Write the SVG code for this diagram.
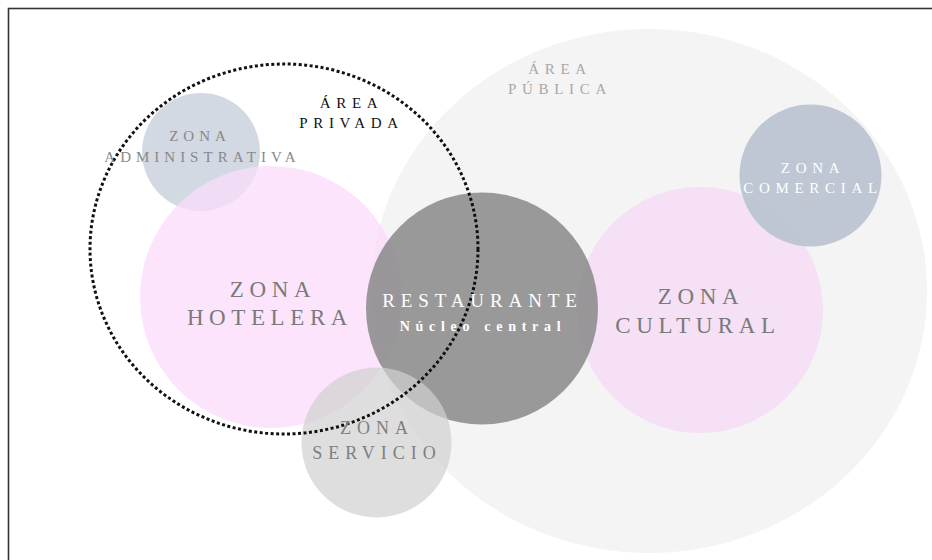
<svg xmlns="http://www.w3.org/2000/svg" width="932" height="560" viewBox="0 0 932 560">
<style>
text{font-family:"Liberation Serif","Times New Roman",serif;text-anchor:middle}
.big{font-size:23px;letter-spacing:5.6px;fill:#7a7a7a}
.sm{font-size:15px;letter-spacing:5.7px}
</style>
<rect x="0" y="0" width="932" height="560" fill="#fff"/>
<rect x="8.5" y="8.5" width="940" height="570" fill="none" stroke="#333" stroke-width="1.6"/>
<g id="area-publica">
<ellipse cx="649" cy="291" rx="278" ry="262" fill="#f4f4f4"/>
<text class="sm" x="560" y="74" fill="#a8a8a8">ÁREA</text>
<text class="sm" x="560" y="94" fill="#a8a8a8">PÚBLICA</text>
</g>
<g id="zona-administrativa">
<circle cx="201" cy="152" r="59" fill="#d3d9e3"/>
</g>
<g id="zona-hotelera">
<circle cx="271" cy="297" r="131" fill="#fbdcfb" fill-opacity="0.75"/>
</g>
<g id="zona-cultural">
<circle cx="700" cy="310" r="123" fill="#f5dcf5" fill-opacity="0.85"/>
</g>
<g id="zona-comercial">
<circle cx="810.5" cy="175.5" r="71" fill="#b8c2cf" fill-opacity="0.9"/>
</g>
<g id="restaurante">
<circle cx="482" cy="308.5" r="116" fill="#888" fill-opacity="0.85"/>
</g>
<g id="zona-servicio">
<circle cx="376.5" cy="442.5" r="75" fill="#d0d0d0" fill-opacity="0.7"/>
</g>
<g id="area-privada">
<ellipse cx="284" cy="249" rx="194" ry="185" fill="none" stroke="#111" stroke-width="3" stroke-dasharray="3 2.5"/>
<text class="sm" x="351.5" y="108" fill="#111">ÁREA</text>
<text class="sm" x="351.5" y="128" fill="#111">PRIVADA</text>
</g>
<g id="labels">
<text class="sm" x="200" y="141" fill="#888" style="letter-spacing:5px">ZONA</text>
<text class="sm" x="202.5" y="162" fill="#888" style="letter-spacing:5px">ADMINISTRATIVA</text>
<text class="big" x="273" y="297">ZONA</text>
<text class="big" x="270" y="325">HOTELERA</text>
<text x="482.5" y="307" fill="#fff" style="font-size:19px;letter-spacing:5.9px">RESTAURANTE</text>
<text x="483" y="331" fill="#fff" style="font-size:14px;font-weight:bold;letter-spacing:5.7px">Núcleo central</text>
<text class="big" x="701" y="304">ZONA</text>
<text class="big" x="698" y="333">CULTURAL</text>
<text class="sm" x="813" y="173" fill="#fff">ZONA</text>
<text class="sm" x="813" y="193" fill="#fff">COMERCIAL</text>
<text x="377" y="434" fill="#808080" style="font-size:18px;letter-spacing:6px">ZONA</text>
<text x="377" y="459" fill="#808080" style="font-size:18px;letter-spacing:6px">SERVICIO</text>
</g>
</svg>
